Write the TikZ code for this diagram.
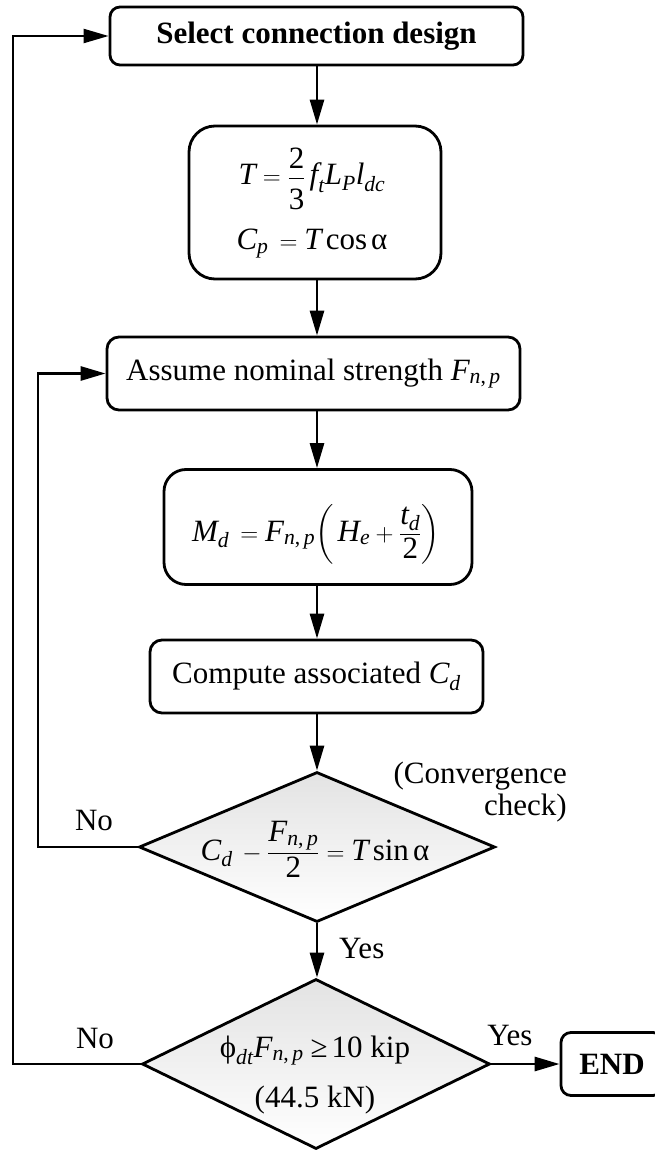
\documentclass[tikz,border=0pt]{standalone}
\usepackage{amsmath}
\usepackage{fontspec}
\setmainfont{Liberation Serif}
\usetikzlibrary{arrows.meta,shapes.geometric}
\newcommand\myit[1]{\text{\itshape #1}}
\newcommand\myrm[1]{\text{\upshape #1}}
\newcommand\numstrut{\rule[-5pt]{0pt}{5pt}}
\newcommand\denstrut{\rule{0pt}{27pt}}
\tikzset{
  lw/.style={line width=2.8pt},
  box/.style={draw, lw, inner sep=0pt, fill=white, align=center},
  dec/.style={draw, lw, diamond, inner sep=0pt, aspect=1, top color=black!11, bottom color=white},
  arr/.style={lw, -{Triangle[length=25pt,width=14pt]}},
  txt/.style={inner sep=0pt, anchor=base},
  big/.style={font=\fontsize{31}{37}\selectfont},
}
\begin{document}
\begin{tikzpicture}[x=1pt,y=-1pt,big]
\useasboundingbox (0,0) rectangle (655,1150);
\clip (0,0) rectangle (655,1150);
\coordinate (ax) at (317,0);
\coordinate (c1) at (38,0);
\coordinate (c2) at (13,0);

% boxes
\node[box, rounded corners=10pt, minimum width=413pt, minimum height=58pt,
      font=\fontsize{31}{37}\selectfont\bfseries] (b1) at (316.5,36) {Select connection design};
\node[box, rounded corners=26pt, minimum width=252pt, minimum height=153pt] (b2) at (315,202.5) {};
\node[txt] (m1a) at (312,185) {$\myit{T}=\dfrac{\myrm{2}\numstrut}{\denstrut\myrm{3}}\,\myit{f}_{\myit{t}}\myit{L}_{\myit{P}}\myit{l}_{\myit{dc}}$};
\node[txt] (m1b) at (312,250) {$\myit{C}_{\myit{p}}\,=\myit{T}\,\myrm{cos}\,\myrm{α}$};
\node[box, rounded corners=12pt, minimum width=413pt, minimum height=73pt] (b3) at (313.5,373.5)
      {Assume nominal strength $\myit{F}_{\myit{n}\myrm{,}\,\myit{p}}$};
\node[box, rounded corners=22pt, minimum width=308pt, minimum height=115pt] (b4) at (318,527) {};
\node[txt] (m2) at (316,541) {$\myit{M}_{\myit{d}}\,=\myit{F}_{\myit{n}\myrm{,}\,\myit{p}}\biggl(\,\myit{H}_{\myit{e}}+\dfrac{\myit{t}_{\myit{d}}}{\myrm{2}}\biggr)$};
\node[box, rounded corners=12pt, minimum width=333pt, minimum height=73pt] (b5) at (316.5,676.5)
      {Compute associated $\myit{C}_{\myit{d}}$};

% decisions
\node[dec, minimum width=356pt, minimum height=150pt] (d1) at (317,847) {};
\node[txt] (m3) at (315,860) {$\myit{C}_{\myit{d}}\,-\dfrac{\myit{F}_{\myit{n}\myrm{,}\,\myit{p}}}{\myrm{2}}=\myit{T}\,\myrm{sin}\,\myrm{α}$};
\node[dec, minimum width=348pt, minimum height=170pt] (d2) at (316,1064) {};
\node[txt] (m4a) at (315,1057) {$\myrm{ϕ}_{\myit{dt}}\myit{F}_{\myit{n}\myrm{,}\,\myit{p}}\;\myrm{≥}\,\myrm{10 kip}$};
\node[txt] (m4b) at (315,1107) {(44.5 kN)};

\node[box, rounded corners=10pt, minimum width=102pt, minimum height=63pt,
      font=\fontsize{31}{37}\selectfont\bfseries] (end) at (612,1064) {END};

% labels
\node[txt] (no1) at (94,830) {No};
\node[txt] (no2) at (95,1048) {No};
\node[txt, anchor=base west] (yes1) at (339,958) {Yes};
\node[txt] (yes2) at (510,1045) {Yes};
\node[txt, anchor=base east] (cv1) at (567,783) {(Convergence};
\node[txt, anchor=base east] (cv2) at (567,815) {check)};

% connectors
\draw[arr] (b1.south -| ax) -- (b2.north -| ax);
\draw[arr] (b2.south -| ax) -- (b3.north -| ax);
\draw[arr] (b3.south -| ax) -- (b4.north -| ax);
\draw[arr] (b4.south -| ax) -- (b5.north -| ax);
\draw[arr] (b5.south -| ax) -- (d1.north);
\draw[arr] (d1.south) -- (d2.north -| d1.south);
\draw[arr] (d2.east) -- (end.west);
\draw[arr] (d1.west) -- (d1.west -| c1) |- (b3.west);
\draw[arr, line width=2.2pt] (d2.west) -- (d2.west -| c2) |- (b1.west);
\end{tikzpicture}
\end{document}
